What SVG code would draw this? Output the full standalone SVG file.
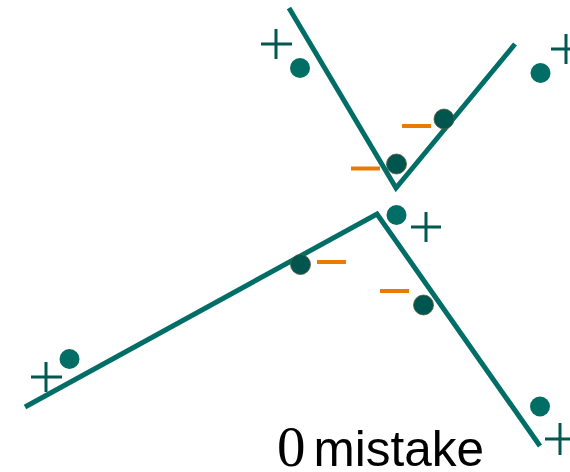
<svg xmlns="http://www.w3.org/2000/svg" width="570" height="472" viewBox="0 0 570 472">
<style>
.ln{fill:none;stroke:#006e66;stroke-width:5;stroke-linejoin:miter}
.dot{fill:#006e64}
.dk{fill:#00554f;stroke:#5a5a3a;stroke-width:0.8}
.pl{stroke:#005850;stroke-width:3;fill:none}
.mn{stroke:#ea7a00;stroke-width:4;fill:none}
.t0{font-family:"Liberation Serif",serif;font-size:57px;fill:#000}
.tm{font-family:"Liberation Sans",Arial,sans-serif;font-size:49.5px;fill:#000}
</style>
<rect width="570" height="472" fill="#fff"/>
<g id="lines">
<polyline class="ln" points="289,8 396,188 515,44"/>
<polyline class="ln" points="25,407 377,214 540,446"/>
</g>
<g id="dots">
<circle class="dot" cx="300" cy="68" r="10"/>
<circle class="dot" cx="540.5" cy="73" r="10"/>
<circle class="dk" cx="444" cy="119" r="10"/>
<circle class="dk" cx="396.5" cy="164" r="10"/>
<circle class="dot" cx="396.5" cy="215" r="10"/>
<circle class="dk" cx="300.5" cy="264.5" r="10"/>
<circle class="dk" cx="423.5" cy="305" r="10"/>
<circle class="dot" cx="540" cy="406.5" r="10"/>
<circle class="dot" cx="69.5" cy="359" r="10"/>
</g>
<g id="plus">
<path class="pl" d="M261,44H292M276,29V59"/>
<path class="pl" d="M551,49H581M566,34V64"/>
<path class="pl" d="M411,227H441M426,212V242"/>
<path class="pl" d="M31,377H62M46,362V392"/>
<path class="pl" d="M545,439H575M560,423V455"/>
</g>
<g id="minus">
<path class="mn" d="M402,126H431"/>
<path class="mn" d="M351,168.5H380"/>
<path class="mn" d="M317,262H346"/>
<path class="mn" d="M380,291H409"/>
</g>
<g id="label">
<text class="t0" x="277" y="466">0</text>
<text class="tm" x="313.5" y="466">mistake</text>
</g>
</svg>
